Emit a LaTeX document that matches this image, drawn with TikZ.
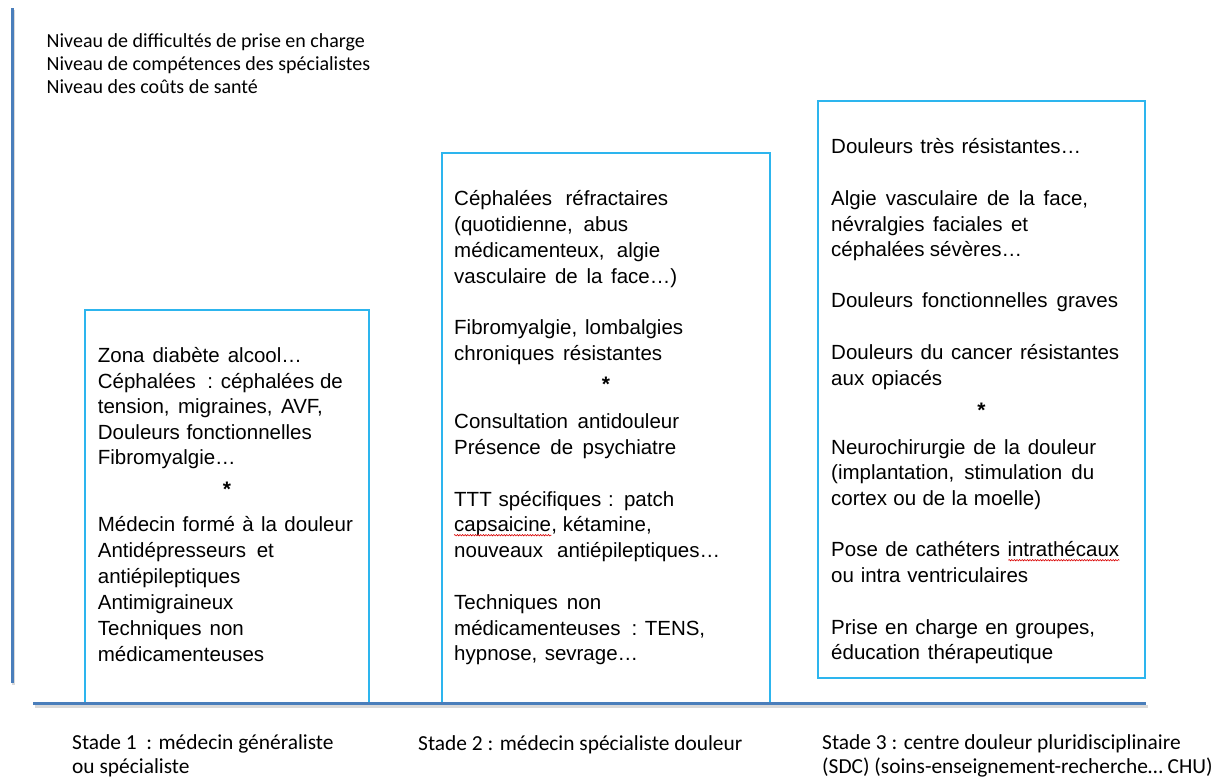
\documentclass[tikz,border=0pt]{standalone}
\usepackage{fontspec}
\setmainfont{Liberation Sans}
\newfontfamily\calfont{Carlito}
\usetikzlibrary{calc,decorations.pathmorphing}
\newcommand{\jl}[2]{\makebox[#1pt][s]{#2}}
\definecolor{axisblue}{HTML}{4A7EBB}
\definecolor{boxblue}{HTML}{2DB5EE}
\tikzset{
  axis/.style={draw=axisblue, line width=3pt},
  axshadow/.style={draw=black!25, line width=3pt, opacity=0.6},
  stagebox/.style={draw=boxblue, line width=1.2pt, inner sep=0pt},
  txt/.style={anchor=base west, inner sep=0pt, font=\fontsize{20.5}{24}\selectfont},
  sep/.style={anchor=base, inner sep=0pt, font=\fontsize{21}{24}\selectfont\bfseries},
  lab/.style={anchor=base west, inner sep=0pt, font=\calfont\fontsize{20}{23}\selectfont},
  blab/.style={anchor=base west, inner sep=0pt, font=\calfont\fontsize{21.4}{24}\selectfont},
  spell/.style={draw=red!85!black, line width=0.6pt, decorate, decoration={snake, amplitude=0.7pt, segment length=2.6pt}}
}
\begin{document}
\begin{tikzpicture}[x=1pt, y=-1pt]
\useasboundingbox (0,0) rectangle (1224,777);
% axes
\coordinate (vtop) at (12,8);
\coordinate (vbot) at (12,683);
\coordinate (hl) at (33,703);
\coordinate (hr) at (1146,703);
\draw[axshadow] ($(vtop)+(1.5,2)$) -- ($(vbot)+(1.5,2)$);
\draw[axshadow] ($(hl)+(1.5,3)$) -- ($(hr)+(1.5,3)$);
\draw[axis] (vtop) -- (vbot);
% boxes
\node[stagebox, minimum width=284pt, minimum height=393pt] (b1) at (227,506.5) {};
\node[stagebox, minimum width=328pt, minimum height=550pt] (b2) at (606,428) {};
\node[stagebox, minimum width=327pt, minimum height=577pt] (b3) at (981.5,389.5) {};
\draw[axis] (hl) -- (hr);
% top labels
\node[lab] (n1) at (46.5,47) {Niveau de difficultés de prise en charge};
\node[lab] (n2) at (46.5,70) {Niveau de compétences des spécialistes};
\node[lab] (n3) at (46.5,93) {Niveau des coûts de santé};
% box 1
\node[txt] (a1) at (97.7,362) {\jl{204}{Zona diabète alcool…}};
\node[txt] (a2) at (97.7,388) {\jl{245}{Céphalées \ : céphalées de}};
\node[txt] (a3) at (97.7,413.5) {\jl{225}{tension, migraines, AVF,}};
\node[txt] (a4) at (97.7,439) {\jl{214}{Douleurs fonctionnelles}};
\node[txt] (a5) at (97.7,464.5) {Fibromyalgie…};
\node[sep] (s1) at (227,496) {*};
\node[txt] (a6) at (97.7,531.7) {\jl{255}{Médecin formé à la douleur}};
\node[txt] (a7) at (97.7,557.7) {\jl{176}{Antidépresseurs et}};
\node[txt] (a8) at (97.7,583.7) {antiépileptiques};
\node[txt] (a9) at (97.7,609.7) {Antimigraineux};
\node[txt] (a10) at (97.7,635.7) {\jl{146}{Techniques non}};
\node[txt] (a11) at (97.7,661.7) {médicamenteuses};
% box 2
\node[txt] (c1) at (454,205) {\jl{214}{Céphalées réfractaires}};
\node[txt] (c2) at (454,231) {\jl{174}{(quotidienne, abus}};
\node[txt] (c3) at (454,257) {\jl{206}{médicamenteux, algie}};
\node[txt] (c4) at (454,283) {\jl{223}{vasculaire de la face…)}};
\node[txt] (c5) at (454,334) {\jl{229}{Fibromyalgie, lombalgies}};
\node[txt] (c6) at (454,360) {\jl{208}{chroniques résistantes}};
\node[sep] (s2) at (606,391) {*};
\node[txt] (c7) at (454,428.3) {\jl{225}{Consultation antidouleur}};
\node[txt] (c8) at (454,454) {\jl{222}{Présence de psychiatre}};
\node[txt] (c9) at (454,506) {\jl{220}{TTT spécifiques : patch}};
\node[txt] (c10a) at (454,531.7) {capsaicine};
\node[txt] (c10b) at (c10a.base east) {, kétamine,};
\node[txt] (c11) at (454,557.3) {\jl{266}{nouveaux antiépileptiques…}};
\node[txt] (c12) at (454,609) {\jl{147}{Techniques non}};
\node[txt] (c13) at (454,635) {\jl{251}{médicamenteuses \ : TENS,}};
\node[txt] (c14) at (454,660) {\jl{184}{hypnose, sevrage…}};
\draw[spell] ($(c10a.base west)+(0,3.5)$) -- ($(c10a.base east)+(0,3.5)$);
% box 3
\node[txt] (d1) at (831,153.3) {\jl{250}{Douleurs très résistantes…}};
\node[txt] (d2) at (831,205) {\jl{257}{Algie vasculaire de la face,}};
\node[txt] (d3) at (831,231) {\jl{197}{névralgies faciales et}};
\node[txt] (d4) at (831,256.7) {\jl{191}{céphalées sévères…}};
\node[txt] (d5) at (831,307.3) {\jl{287}{Douleurs fonctionnelles graves}};
\node[txt] (d6) at (831,359.3) {\jl{288}{Douleurs du cancer résistantes}};
\node[txt] (d7) at (831,385) {\jl{111}{aux opiacés}};
\node[sep] (s3) at (981.5,417) {*};
\node[txt] (d8) at (831,454) {\jl{265}{Neurochirurgie de la douleur}};
\node[txt] (d9) at (831,479.3) {\jl{263}{(implantation, stimulation du}};
\node[txt] (d10) at (831,505.7) {\jl{210}{cortex ou de la moelle)}};
\node[txt] (d11) at (831,556.7) {\jl{288}{Pose de cathéters intrathécaux}};
\node[txt] (d12) at (831,582.7) {\jl{197}{ou intra ventriculaires}};
\node[txt] (d13) at (831,634) {\jl{264}{Prise en charge en groupes,}};
\node[txt] (d14) at (831,659.3) {\jl{222}{éducation thérapeutique}};
\draw[spell] ($(d11.base east)+(-111,3.5)$) -- ($(d11.base east)+(0,3.5)$);
% stage labels
\node[blab] (t1) at (72,749) {Stade 1 \ : médecin généraliste};
\node[blab] (t1b) at (72,773) {ou spécialiste};
\node[blab] (t2) at (418,750) {Stade 2 : médecin spécialiste douleur};
\node[blab] (t3) at (822,749) {Stade 3 : centre douleur pluridisciplinaire};
\node[blab] (t3b) at (822,773) {(SDC) (soins-enseignement-recherche… CHU)};
\end{tikzpicture}
\end{document}
